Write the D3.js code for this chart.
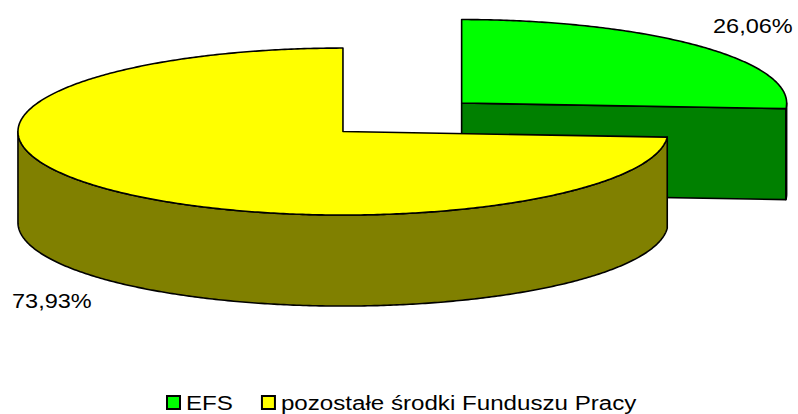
<!DOCTYPE html>
<html>
<head>
<meta charset="utf-8">
<script src="https://cdn.jsdelivr.net/npm/d3@7/dist/d3.min.js"></script>
<style>
  html, body { margin: 0; padding: 0; background: #ffffff; }
  svg { display: block; }
  text { font-family: "Liberation Sans", Arial, sans-serif; fill: #000; }
</style>
</head>
<body>
<script>
// Share of Fundusz Pracy spending, in percent
const categories = ["EFS", "pozostałe środki Funduszu Pracy"];
const shares = [26.06, 73.93];
const valueLabels = ["26,06%", "73,93%"];
const topColors = ["#00ff00", "#ffff00"];
const sideColors = ["#008000", "#808000"];

const W = 798, H = 414;
const svg = d3.select("body").append("svg").attr("width", W).attr("height", H);

// 3D pie geometry (projected ellipse)
const cx = 402.3, cy = 117.3;   // pie centre before explosion
const rx = 325, ry = 83.5;       // top-face radii
const depth = 91;                // wall height
const explode = 0.25;            // explosion as fraction of radius

const pie = d3.pie().sort(null).value(d => d);
const arcs = pie(shares).map((a, i) => {
  const mid = (a.startAngle + a.endAngle) / 2;
  return {
    i, a0: a.startAngle, a1: a.endAngle,
    x: cx + explode * rx * Math.sin(mid),
    y: cy - explode * ry * Math.cos(mid)
  };
});

function rim(s, t, dz = 0) {
  return [s.x + rx * Math.sin(t), s.y - ry * Math.cos(t) + dz];
}
function arcPoints(s, t0, t1, dz = 0) {
  const n = Math.max(2, Math.ceil(Math.abs(t1 - t0) / 0.01));
  return d3.range(n + 1).map(k => rim(s, t0 + (t1 - t0) * k / n, dz));
}
const line = d3.line().curve(d3.curveLinear);
const closed = pts => line(pts) + "Z";

const g = svg.append("g")
  .attr("stroke", "#000")
  .attr("stroke-width", 1.6)
  .attr("stroke-linejoin", "round");

// paint back slices first
const order = arcs.slice().sort((p, q) => p.y - q.y);
order.forEach(s => {
  const side = sideColors[s.i], top = topColors[s.i];
  const faces = [];
  // radial cut faces that turn toward the viewer
  [[s.a0, s.a0 - Math.PI / 2], [s.a1, s.a1 + Math.PI / 2]].forEach(([t, nrm]) => {
    if (-Math.cos(nrm) > 1e-6) {
      const c0 = [s.x, s.y], c1 = [s.x, s.y + depth];
      faces.push(closed([c0, rim(s, t), rim(s, t, depth), c1]));
    }
  });
  // outer curved wall, front half only
  const lo = Math.max(s.a0, Math.PI / 2), hi = Math.min(s.a1, 3 * Math.PI / 2);
  if (hi > lo) {
    const topEdge = arcPoints(s, lo, hi);
    const botEdge = arcPoints(s, hi, lo, depth);
    faces.push(closed(topEdge.concat(botEdge)));
  }
  faces.forEach(d => g.append("path").attr("d", d).attr("fill", side));
  // top face
  g.append("path")
    .attr("d", closed([[s.x, s.y]].concat(arcPoints(s, s.a0, s.a1))))
    .attr("fill", top);
});

// value labels
const labelPos = [
  { x: 713, y: 33 },
  { x: 12, y: 308 }
];
valueLabels.forEach((t, i) => {
  svg.append("text")
    .attr("transform", `translate(${labelPos[i].x},${labelPos[i].y}) scale(1.12,1)`)
    .attr("font-size", 21)
    .text(t);
});

// legend
const legend = svg.append("g");
let lx = 166;
const ly = 410, box = 13, sx = 1.15;
categories.forEach((c, i) => {
  legend.append("rect")
    .attr("x", lx + 1).attr("y", ly - 14)
    .attr("width", box).attr("height", box)
    .attr("fill", topColors[i])
    .attr("stroke", "#000").attr("stroke-width", 2);
  const tx = lx + box + 7;
  const txt = legend.append("text")
    .attr("transform", `translate(${tx},${ly}) scale(${sx},1)`)
    .attr("font-size", 21)
    .text(c);
  lx = tx + txt.node().getComputedTextLength() * sx + 28;
});
</script>
</body>
</html>
